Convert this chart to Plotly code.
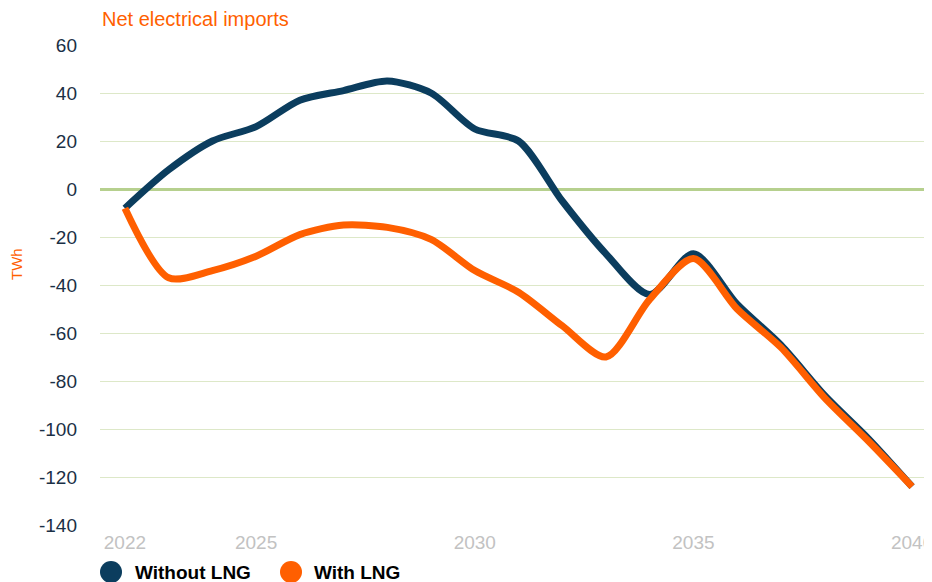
import plotly.graph_objects as go

years = list(range(2022, 2041))
without_lng = [-8, 8, 20, 26, 37, 41, 45, 40, 25, 20, -5, -27, -44, -27, -48, -65, -86, -104, -124]
with_lng = [-8, -37, -34, -28, -19, -15, -16, -21, -34, -43, -57, -70, -46, -29, -50, -66, -87, -105, -124]

y_ticks = [60, 40, 20, 0, -20, -40, -60, -80, -100, -120, -140]
y_labels = ["60", "40", "20", "0", "-20", "-40", "-60", "-80", "-100", "-120", "-140"]
x_ticks = [2022, 2025, 2030, 2035, 2040]
series_names = ["Without LNG", "With LNG"]

NAVY = "#0b3d5e"
ORANGE = "#ff5f00"

fig = go.Figure()
fig.add_trace(go.Scatter(x=years, y=without_lng, mode="lines", name=series_names[0], showlegend=False,
                         line=dict(color=NAVY, width=7, shape="spline", smoothing=0.8)))
fig.add_trace(go.Scatter(x=years, y=with_lng, mode="lines", name=series_names[1], showlegend=False,
                         line=dict(color=ORANGE, width=7, shape="spline", smoothing=0.8)))

# page body has an 8px margin, so the figure is offset by 8px
fig.update_layout(
    width=932, height=582,
    paper_bgcolor="white", plot_bgcolor="white",
    margin=dict(l=92, r=10, t=37, b=65, autoexpand=False),
    font=dict(family="Liberation Sans, Arial, sans-serif"),
    showlegend=False,
)

PW, PH = 830.0, 480.0
def px(page_x):
    return (page_x - 100) / PW
def py(page_y):
    return (525 - page_y) / PH

fig.add_annotation(text="Net electrical imports", xref="paper", yref="paper",
                   x=0, y=1, xanchor="left", yanchor="middle", yshift=26, showarrow=False,
                   font=dict(size=20, color=ORANGE))
fig.add_annotation(text="TWh", xref="paper", yref="paper", x=px(16), y=py(264),
                   xanchor="center", yanchor="middle",
                   textangle=-90, showarrow=False, font=dict(size=15, color=ORANGE))

# manual legend with round symbols
legend_items = [(series_names[0], NAVY, 100, 133), (series_names[1], ORANGE, 280, 312)]
for name, col, cx, tx in legend_items:
    fig.add_shape(type="circle", xref="paper", yref="paper",
                  x0=px(cx), x1=px(cx + 22), y0=py(583), y1=py(561),
                  fillcolor=col, line=dict(width=0))
    fig.add_annotation(text="<b>" + name + "</b>", xref="paper", yref="paper",
                       x=px(tx), y=py(572), xanchor="left", yanchor="middle", showarrow=False,
                       font=dict(size=19, color="black"))

fig.update_xaxes(range=[2021.43, 2040.41], tickvals=x_ticks, ticktext=[str(t) for t in x_ticks],
                 showgrid=False, zeroline=False, showline=False, automargin=False,
                 tickfont=dict(size=19, color="#c2c2c2"), ticks="", ticklabelstandoff=4)
fig.update_yaxes(range=[-140, 60], tickvals=y_ticks, ticktext=y_labels,
                 showgrid=True, gridcolor="#dde8c8", gridwidth=1, automargin=False,
                 zeroline=True, zerolinecolor="#b6d08e", zerolinewidth=3, showline=False,
                 tickfont=dict(size=19, color="#1a2f45"), ticks="", ticklabelstandoff=22)

fig.write_html("out.html")
